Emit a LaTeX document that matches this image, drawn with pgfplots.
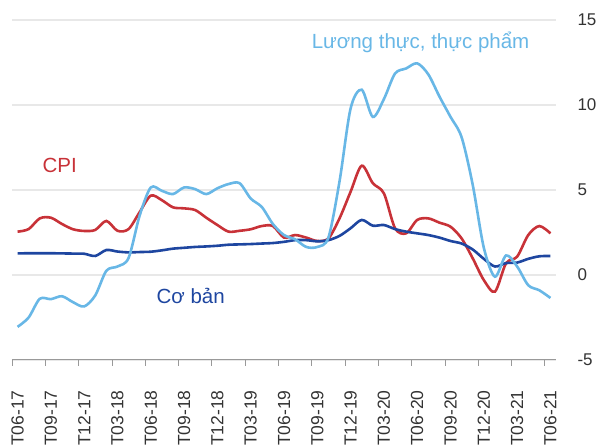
\documentclass[border=0pt]{standalone}
\usepackage{pgfplots}
\pgfplotsset{compat=1.18}
\usepackage{fontspec}
\setmainfont{Liberation Sans}
\definecolor{cpired}{RGB}{200,50,56}
\definecolor{coreblue}{RGB}{30,70,160}
\definecolor{foodblue}{RGB}{104,183,230}
\begin{document}
\begin{tikzpicture}[x=1pt,y=1pt]
\begin{axis}[
  at={(12pt,87pt)}, anchor=south west,
  scale only axis, width=544pt, height=340pt,
  xmin=-0.5, xmax=48.5, ymin=-5, ymax=15,
  axis x line*=bottom, axis y line*=right,
  y axis line style={draw=none},
  x axis line style={draw=gray!80, line width=1pt},
  xtick={0,3,...,48},
  xticklabels={T06-17,T09-17,T12-17,T03-18,T06-18,T09-18,T12-18,T03-19,T06-19,T09-19,T12-19,T03-20,T06-20,T09-20,T12-20,T03-21,T06-21},
  minor xtick={-0.5,2.5,...,47.5},
  tick align=outside,
  major tick length=0pt, minor tick length=6pt,
  minor tick style={draw=gray!80, line width=0.8pt},
  ytick={-5,0,5,10,15},
  ymajorgrids, major grid style={draw=gray!18, line width=1.2pt},
  x tick label style={rotate=90, anchor=east, font=\fontsize{17.5}{19}\selectfont, text=black!80, xshift=-27pt},
  y tick label style={anchor=west, font=\fontsize{17}{19}\selectfont, text=black!80, xshift=18pt},
  /pgf/number format/assume math mode=true,
  clip=false,
]
\addplot[cpired, line width=2.6pt, smooth, tension=0.5] coordinates {
(0,2.55)(1,2.7)(2,3.33)(3,3.37)(4,3.0)(5,2.69)(6,2.59)(7,2.65)(8,3.18)(9,2.6)
(10,2.7)(11,3.7)(12,4.67)(13,4.4)(14,3.98)(15,3.92)(16,3.82)(17,3.37)(18,2.94)(19,2.55)
(20,2.6)(21,2.69)(22,2.88)(23,2.88)(24,2.2)(25,2.35)(26,2.2)(27,2.0)(28,2.15)(29,3.33)
(30,4.9)(31,6.43)(32,5.4)(33,4.8)(34,2.75)(35,2.45)(36,3.24)(37,3.33)(38,3.08)(39,2.84)
(40,2.15)(41,0.98)(42,-0.3)(43,-0.98)(44,0.69)(45,1.08)(46,2.35)(47,2.88)(48,2.45)};
\addplot[coreblue, line width=2.6pt, smooth, tension=0.5] coordinates {
(0,1.27)(1,1.28)(2,1.28)(3,1.28)(4,1.27)(5,1.26)(6,1.25)(7,1.12)(8,1.47)(9,1.38)
(10,1.33)(11,1.35)(12,1.37)(13,1.45)(14,1.55)(15,1.6)(16,1.65)(17,1.68)(18,1.72)(19,1.78)
(20,1.8)(21,1.82)(22,1.85)(23,1.88)(24,1.95)(25,2.05)(26,2.05)(27,1.98)(28,2.05)(29,2.3)
(30,2.75)(31,3.24)(32,2.9)(33,2.94)(34,2.7)(35,2.55)(36,2.45)(37,2.35)(38,2.2)(39,2.0)
(40,1.85)(41,1.5)(42,0.95)(43,0.5)(44,0.7)(45,0.73)(46,0.95)(47,1.1)(48,1.12)};
\addplot[foodblue, line width=2.6pt, smooth, tension=0.5] coordinates {
(0,-3.05)(1,-2.5)(2,-1.4)(3,-1.42)(4,-1.25)(5,-1.6)(6,-1.85)(7,-1.2)(8,0.25)(9,0.5)
(10,1.0)(11,3.5)(12,5.15)(13,4.95)(14,4.76)(15,5.15)(16,5.05)(17,4.76)(18,5.1)(19,5.35)
(20,5.4)(21,4.5)(22,4.0)(23,3.0)(24,2.35)(25,2.1)(26,1.65)(27,1.65)(28,2.2)(29,5.5)
(30,9.8)(31,10.9)(32,9.3)(33,10.35)(34,11.85)(35,12.15)(36,12.45)(37,11.8)(38,10.5)(39,9.3)
(40,8.1)(41,5.3)(42,1.6)(43,-0.1)(44,1.15)(45,0.5)(46,-0.6)(47,-0.9)(48,-1.35)};
\node[text=foodblue, font=\fontsize{20.5}{22}\selectfont] at (axis cs:36.3,13.7) {Lương thực, thực phẩm};
\node[text=cpired, font=\fontsize{20.5}{22}\selectfont] at (axis cs:3.8,6.47) {CPI};
\node[text=coreblue, font=\fontsize{20.5}{22}\selectfont] at (axis cs:15.6,-1.24) {Cơ bản};
\end{axis}
\pgfresetboundingbox
\path[use as bounding box] (0,0) rectangle (598,447);
\end{tikzpicture}
\end{document}
